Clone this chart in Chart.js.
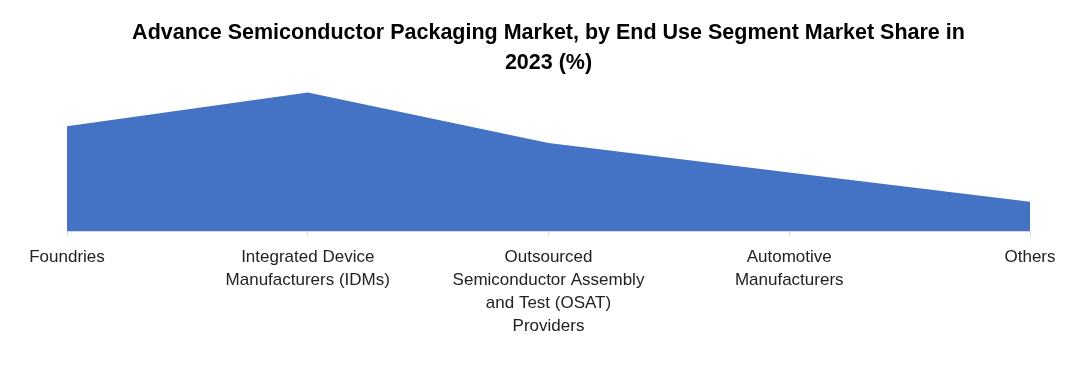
<!DOCTYPE html>
<html>
<head>
<meta charset="utf-8">
<script src="https://cdn.jsdelivr.net/npm/chart.js@4/dist/chart.umd.min.js"></script>
<style>
html,body{margin:0;padding:0;background:#fff;}
#wrap{width:1085px;height:379px;position:relative;}
</style>
</head>
<body>
<div id="wrap"><canvas id="c" width="1085" height="379"></canvas></div>
<script>
const categories = [
  "Foundries",
  ["Integrated Device", "Manufacturers (IDMs)"],
  ["Outsourced", "Semiconductor Assembly", "and Test (OSAT)", "Providers"],
  ["Automotive", "Manufacturers"],
  "Others"
];
const shareValues = [25, 33, 21, 14, 7];
const titleLines = ["Advance Semiconductor Packaging Market, by End Use Segment Market Share in", "2023 (%)"];

new Chart(document.getElementById('c'), {
  type: 'line',
  data: {
    labels: categories,
    datasets: [{
      data: shareValues,
      fill: 'origin',
      backgroundColor: '#4472C4',
      borderColor: '#4472C4',
      borderWidth: 0,
      pointRadius: 0,
      tension: 0
    }]
  },
  options: {
    responsive: false,
    animation: false,
    layout: { padding: { left: 67, right: 55, top: 0, bottom: 31 } },
    plugins: {
      legend: { display: false },
      tooltip: { enabled: false },
      title: {
        display: true,
        text: titleLines,
        color: '#000',
        font: { family: 'Liberation Sans', size: 21.5, weight: 'bold', lineHeight: 1.4 },
        padding: { top: 18, bottom: 6 }
      }
    },
    scales: {
      x: {
        offset: false,
        border: { display: true, color: '#d9d9d9', width: 1 },
        grid: { display: true, drawOnChartArea: false, drawTicks: true, tickLength: 5, color: '#d9d9d9' },
        ticks: {
          color: '#222',
          font: { family: 'Liberation Sans', size: 17, lineHeight: 1.35 },
          maxRotation: 0,
          autoSkip: false,
          padding: 10
        }
      },
      y: {
        display: false,
        min: 0,
        max: 35
      }
    }
  }
});
</script>
</body>
</html>
